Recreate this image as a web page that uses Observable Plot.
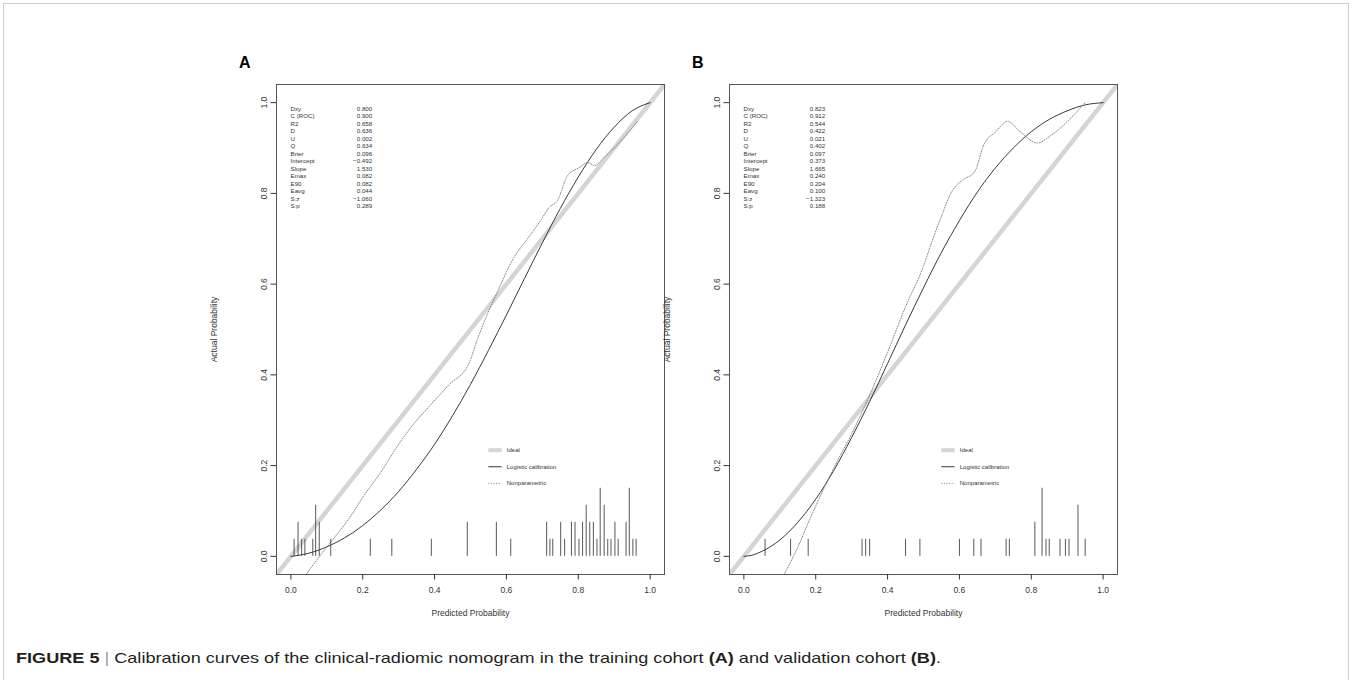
<!DOCTYPE html>
<html><head><meta charset="utf-8">
<script src="https://cdn.jsdelivr.net/npm/d3@7"></script>
<script src="https://cdn.jsdelivr.net/npm/@observablehq/plot@0.6"></script>
<style>
html,body{margin:0;padding:0;background:#fff;}
body{width:1352px;height:680px;position:relative;overflow:hidden;font-family:"Liberation Sans",Arial,Helvetica,sans-serif;}
#border{position:absolute;left:3px;top:3px;width:1344px;height:720px;border:1px solid #cfcfcf;}
.panel{position:absolute;top:70px;}
.plabel{position:absolute;top:55px;font-weight:bold;font-size:16px;line-height:1;color:#000;}
#caption{position:absolute;left:16px;top:650px;font-size:15px;line-height:1;white-space:nowrap;transform-origin:0 0;color:#231f20;}
</style></head>
<body>
<div id="border"></div>
<div class="plabel" style="left:239px">A</div>
<div class="plabel" style="left:692px">B</div>
<div id="panelA" class="panel" style="left:196px"></div>
<div id="panelB" class="panel" style="left:649px"></div>
<div id="caption"><b>FIGURE 5</b> <span style="color:#9a9a9a">|</span> Calibration curves of the clinical-radiomic nomogram in the training cohort <b>(A)</b> and validation cohort <b>(B)</b>.</div>
<script>
// ---------------- data ----------------
const ticks = [0, 0.2, 0.4, 0.6, 0.8, 1.0];
const statLabels = ["Dxy","C (ROC)","R2","D","U","Q","Brier","Intercept","Slope","Emax","E90","Eavg","S:z","S:p"];
const statsA = ["0.800","0.900","0.658","0.636","0.002","0.634","0.096","\u22120.492","1.530","0.082","0.082","0.044","\u22121.060","0.289"];
const statsB = ["0.823","0.912","0.544","0.422","0.021","0.402","0.097","0.373","1.665","0.240","0.204","0.100","\u22121.323","0.188"];
const legendLabels = ["Ideal","Logistic calibration","Nonparametric"];

// Panel A – logistic calibration curve
const logAx = [0,0.02,0.05,0.1,0.15,0.2,0.25,0.3,0.35,0.4,0.45,0.5,0.55,0.6,0.65,0.7,0.75,0.8,0.85,0.9,0.95,1.0];
const logAy = [0,0.002,0.007,0.021,0.041,0.068,0.102,0.143,0.192,0.247,0.310,0.379,0.454,0.532,0.612,0.691,0.767,0.836,0.897,0.946,0.982,1.0];
// Panel A – nonparametric curve
const npAx = [0.042,0.08,0.12,0.165,0.2,0.25,0.295,0.34,0.388,0.44,0.495,0.52,0.547,0.575,0.616,0.668,0.695,0.719,0.742,0.770,0.803,0.826,0.845,0.872,0.9,0.928,0.966];
const npAy = [-0.04,0.0,0.04,0.087,0.13,0.185,0.241,0.29,0.333,0.378,0.424,0.48,0.534,0.583,0.652,0.710,0.74,0.769,0.784,0.839,0.857,0.868,0.861,0.879,0.9,0.924,0.960];
// Panel A – rug (predicted probabilities and counts)
const rugAx = [0.009,0.020,0.030,0.039,0.061,0.069,0.079,0.111,0.221,0.281,0.391,0.491,0.572,0.612,0.712,0.721,0.729,0.751,0.762,0.781,0.791,0.802,0.812,0.822,0.832,0.842,0.852,0.861,0.872,0.882,0.891,0.902,0.911,0.933,0.942,0.952,0.961];
const rugAn = [1,2,1,1,1,3,2,1,1,1,1,2,2,1,2,1,1,2,1,2,2,1,2,3,2,2,1,4,3,1,1,2,1,2,4,1,1];

// Panel B – logistic calibration curve
const logBx = [0,0.02,0.05,0.1,0.15,0.2,0.25,0.3,0.35,0.4,0.45,0.5,0.55,0.6,0.65,0.7,0.75,0.8,0.85,0.9,0.95,1.0];
const logBy = [0,0.002,0.011,0.036,0.075,0.126,0.189,0.262,0.341,0.425,0.510,0.592,0.670,0.740,0.803,0.856,0.900,0.936,0.963,0.982,0.995,1.0];
// Panel B – nonparametric curve
const npBx = [0.112,0.15,0.183,0.22,0.26,0.3,0.35,0.4,0.45,0.5,0.525,0.55,0.581,0.61,0.642,0.669,0.70,0.734,0.77,0.818,0.85,0.878,0.915,0.95];
const npBy = [-0.04,0.02,0.081,0.145,0.21,0.27,0.355,0.45,0.55,0.64,0.697,0.75,0.807,0.83,0.847,0.909,0.935,0.959,0.935,0.911,0.925,0.942,0.97,1.0];
// Panel B – rug
const rugBx = [0.059,0.130,0.179,0.329,0.339,0.350,0.450,0.490,0.600,0.640,0.660,0.730,0.739,0.810,0.830,0.841,0.850,0.880,0.895,0.905,0.930,0.950];
const rugBn = [1,1,1,1,1,1,1,1,1,1,1,1,1,2,4,1,1,1,1,1,3,1];

// ---------------- layout ----------------
const W = 388, H = 490;
const M = {top: 14, right: 14, bottom: 50, left: 80};
const dom = [-0.04, 1.04];
const spikeUnit = 0.0375;
const FONT = "'Liberation Sans', Arial, Helvetica, sans-serif";
const legX1 = 0.551, legX2 = 0.588, legTX = 0.601, legTop = 0.234, legStep = 0.0365;

function zip(xs, ys, key) { return xs.map((x, i) => ({x, [key]: ys[i]})); }

function panel(logX, logY, npX, npY, rugX, rugN, stats) {
  const logistic = zip(logX, logY, "y");
  const nonpar = zip(npX, npY, "y");
  const rug = zip(rugX, rugN, "n");
  const legRows = legendLabels.map((t, i) => ({t, y: legTop - i * legStep}));
  return Plot.plot({
    width: M.left + W + M.right,
    height: M.top + H + M.bottom,
    marginTop: M.top, marginRight: M.right, marginBottom: M.bottom, marginLeft: M.left,
    x: {domain: dom},
    y: {domain: dom},
    style: {background: "transparent", fontFamily: FONT, color: "#333", overflow: "visible"},
    marks: [
      Plot.line(dom, {x: d => d, y: d => d, stroke: "#d5d5d5", strokeWidth: 4.5, clip: true}),
      Plot.line(logistic, {x: "x", y: "y", stroke: "#222", strokeWidth: 0.9, curve: "monotone-x"}),
      Plot.line(nonpar, {x: "x", y: "y", stroke: "#777", strokeWidth: 0.9, strokeDasharray: "1,1.6", curve: "monotone-x", clip: true}),
      Plot.ruleX(rug, {x: "x", y1: 0, y2: d => d.n * spikeUnit, stroke: "#444", strokeWidth: 0.9}),
      Plot.frame({stroke: "#555"}),
      Plot.axisX({ticks, tickSize: 5.5, tickPadding: 7, tickFormat: d3.format(".1f"), fontSize: 8.5,
        label: "Predicted Probability", labelAnchor: "center", labelArrow: "none", labelOffset: 41}),
      Plot.axisY({ticks, tickSize: 5.5, tickPadding: 4, tickRotate: -90, tickFormat: d3.format(".1f"), fontSize: 8.5,
        label: "Actual Probability", labelAnchor: "center", labelArrow: "none", labelOffset: 66}),
      Plot.text([statLabels.join("\n")], {frameAnchor: "top-left", textAnchor: "start", lineAnchor: "top",
        dx: 14, dy: 21, fontSize: 6.2, lineHeight: 1.21, fill: "#333"}),
      Plot.text([stats.join("\n")], {frameAnchor: "top-left", textAnchor: "end", lineAnchor: "top",
        dx: 95.7, dy: 21, fontSize: 6.2, lineHeight: 1.21, fill: "#333"}),
      Plot.ruleY([legRows[0]], {y: "y", x1: legX1, x2: legX2, stroke: "#d5d5d5", strokeWidth: 4}),
      Plot.ruleY([legRows[1]], {y: "y", x1: legX1, x2: legX2, stroke: "#222", strokeWidth: 0.9}),
      Plot.ruleY([legRows[2]], {y: "y", x1: legX1, x2: legX2, stroke: "#777", strokeWidth: 0.9, strokeDasharray: "1,1.6"}),
      Plot.text(legRows, {x: legTX, y: "y", text: "t", textAnchor: "start", fontSize: 6, fill: "#333"})
    ]
  });
}

document.getElementById("panelA").append(panel(logAx, logAy, npAx, npAy, rugAx, rugAn, statsA));
document.getElementById("panelB").append(panel(logBx, logBy, npBx, npBy, rugBx, rugBn, statsB));

const cap = document.getElementById("caption");
const cw = cap.getBoundingClientRect().width;
cap.style.transform = `scaleX(${925 / cw})`;
</script>
</body></html>
